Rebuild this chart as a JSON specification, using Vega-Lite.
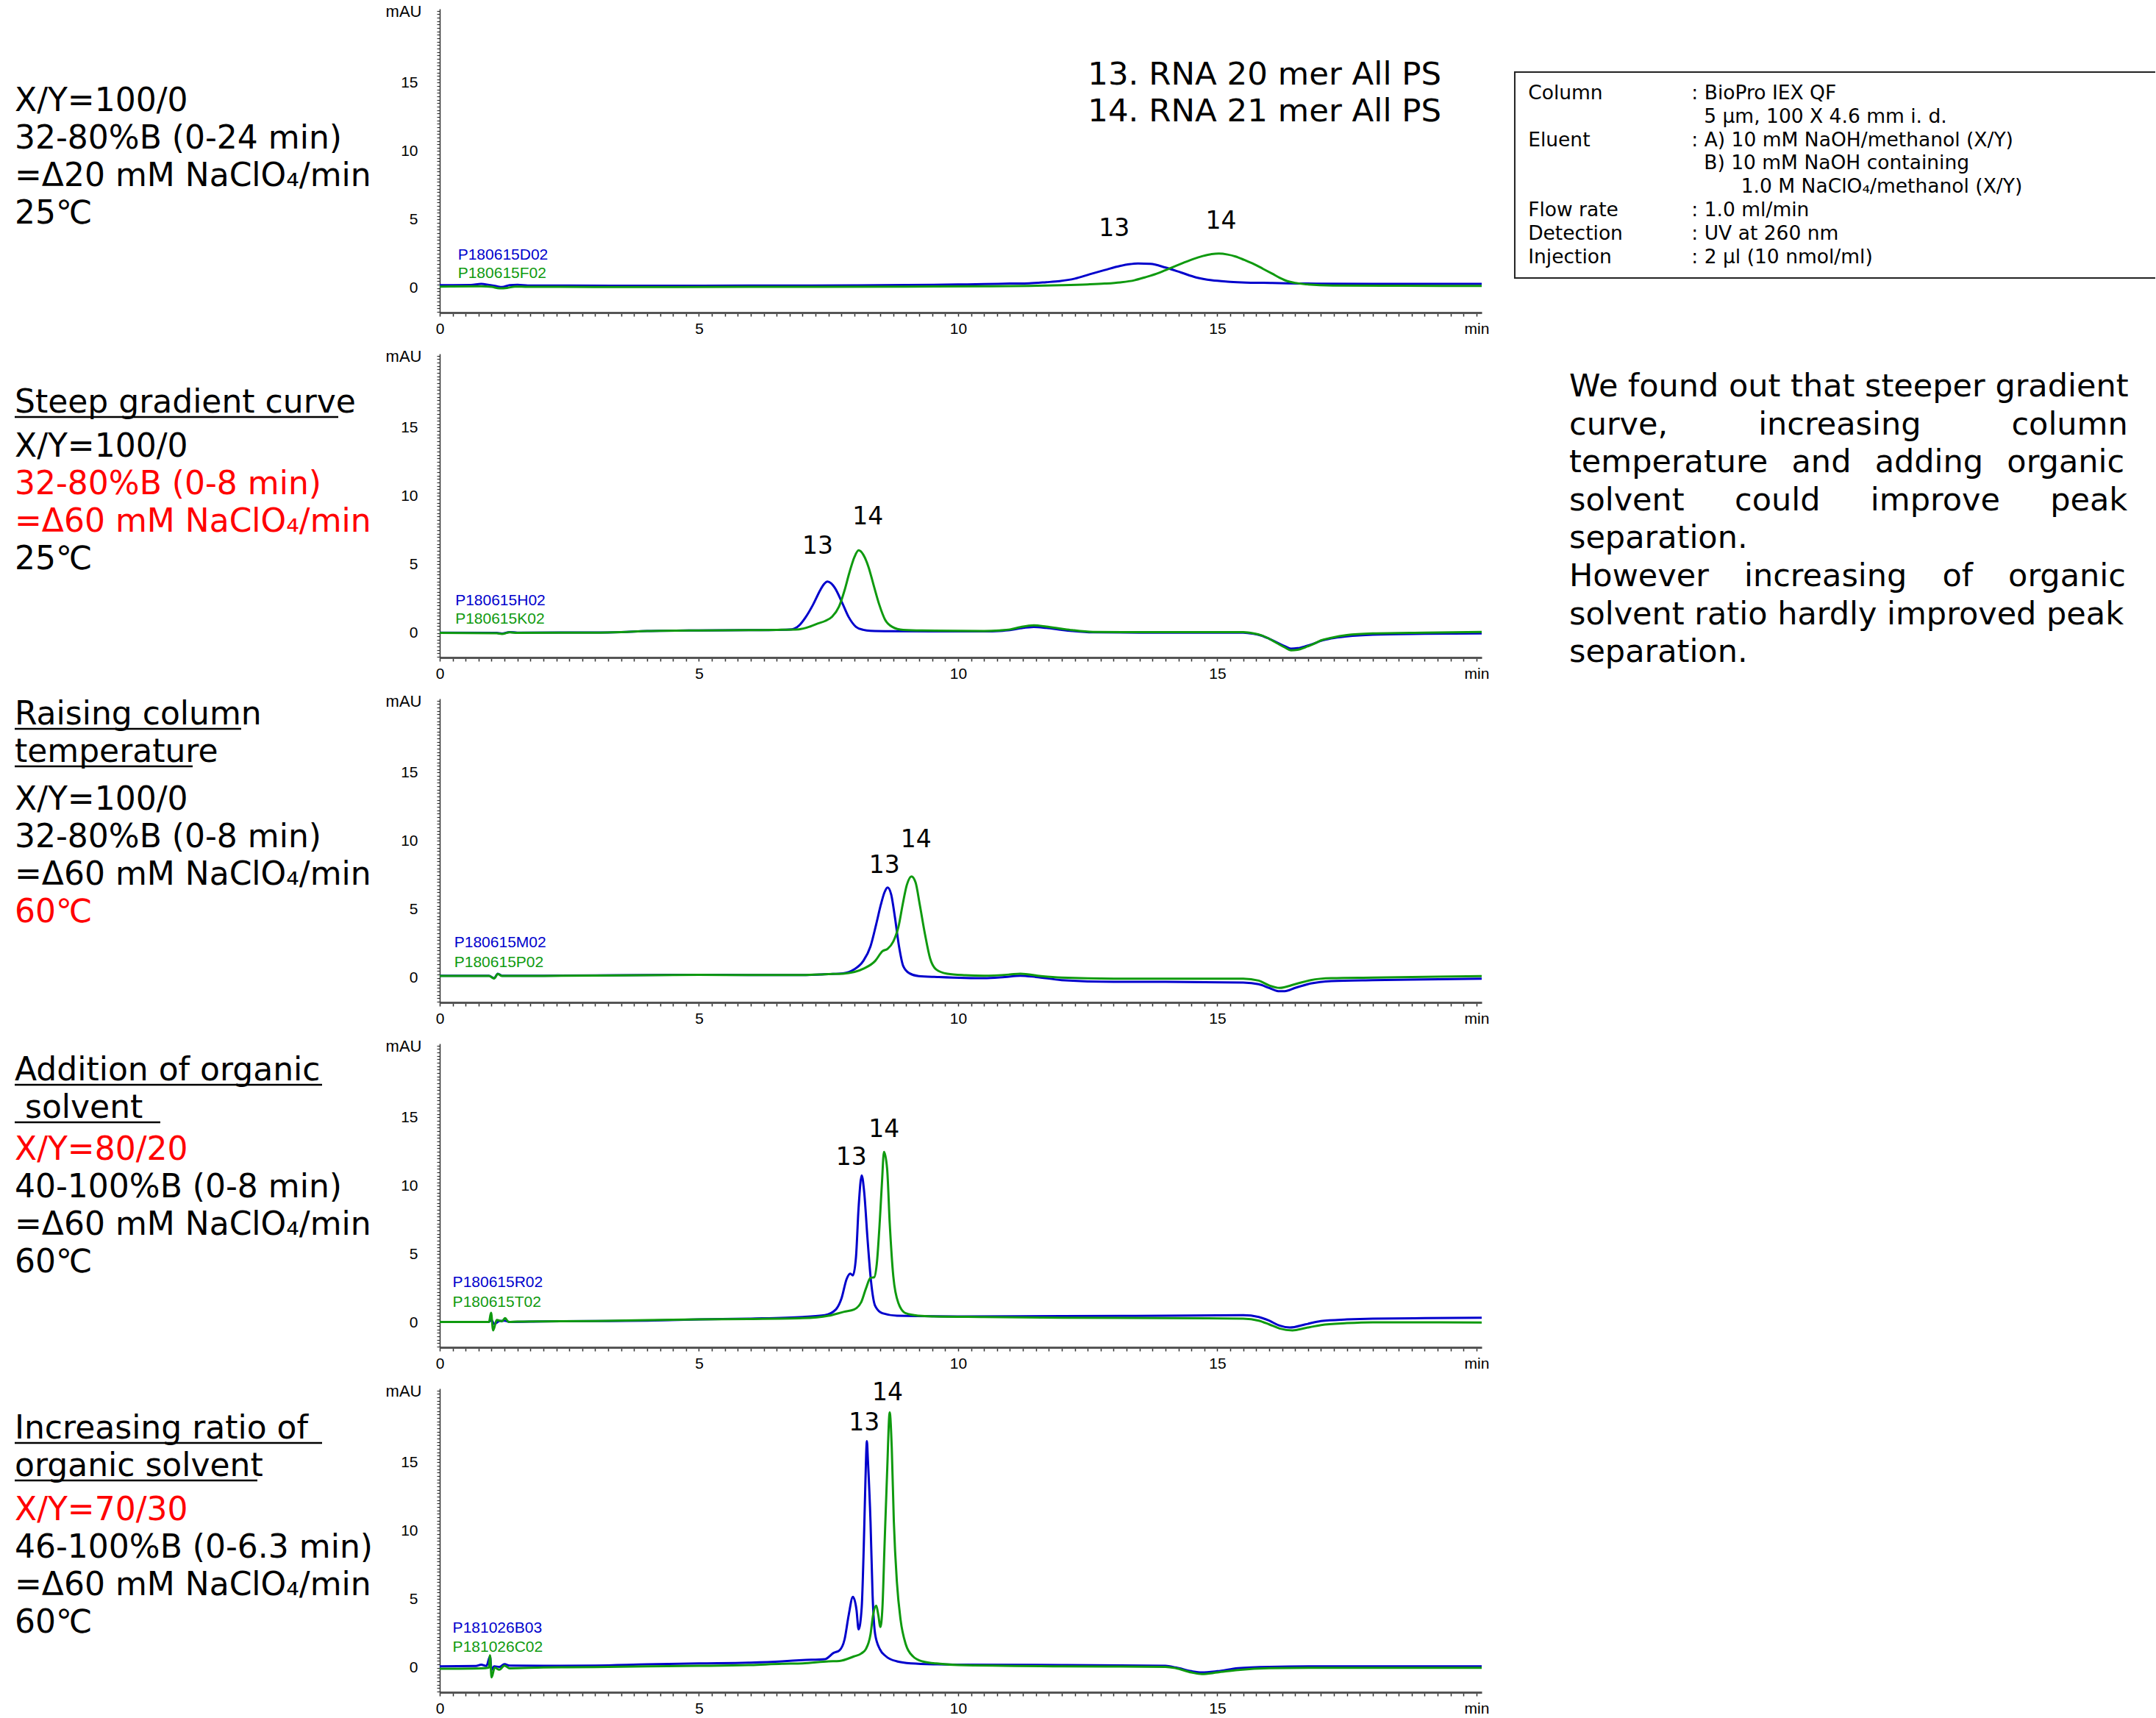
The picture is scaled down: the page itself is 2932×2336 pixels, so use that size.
{
  "$schema": "https://vega.github.io/schema/vega-lite/v6.json",
  "background": "white",
  "padding": {"left": 0, "top": 3, "right": 0, "bottom": 0},
  "columns": 3,
  "spacing": {"row": 56, "column": 36},
  "bounds": "flush",
  "config": {"view": {"stroke": null}, "axis": {"grid": false}},
  "datasets": {
    "conditions": [
      {"row": 1, "line": 1, "kind": "body", "text": "X/Y=100/0", "changed": false},
      {"row": 1, "line": 2, "kind": "body", "text": "32-80%B (0-24 min)", "changed": false},
      {"row": 1, "line": 3, "kind": "body", "text": "=\u039420 mM NaClO\u2084/min", "changed": false},
      {"row": 1, "line": 4, "kind": "body", "text": "25\u2103", "changed": false},
      {"row": 2, "line": 0, "kind": "head", "text": "Steep gradient curve", "changed": false},
      {"row": 2, "line": 1, "kind": "body", "text": "X/Y=100/0", "changed": false},
      {"row": 2, "line": 2, "kind": "body", "text": "32-80%B (0-8 min)", "changed": true},
      {"row": 2, "line": 3, "kind": "body", "text": "=\u039460 mM NaClO\u2084/min", "changed": true},
      {"row": 2, "line": 4, "kind": "body", "text": "25\u2103", "changed": false},
      {"row": 3, "line": 0, "kind": "head", "text": "Raising column", "changed": false},
      {"row": 3, "line": 1, "kind": "head", "text": "temperature", "changed": false},
      {"row": 3, "line": 2, "kind": "body", "text": "X/Y=100/0", "changed": false},
      {"row": 3, "line": 3, "kind": "body", "text": "32-80%B (0-8 min)", "changed": false},
      {"row": 3, "line": 4, "kind": "body", "text": "=\u039460 mM NaClO\u2084/min", "changed": false},
      {"row": 3, "line": 5, "kind": "body", "text": "60\u2103", "changed": true},
      {"row": 4, "line": 0, "kind": "head", "text": "Addition of organic", "changed": false},
      {"row": 4, "line": 1, "kind": "head", "text": "\u200b\u00a0solvent", "changed": false},
      {"row": 4, "line": 2, "kind": "body", "text": "X/Y=80/20", "changed": true},
      {"row": 4, "line": 3, "kind": "body", "text": "40-100%B (0-8 min)", "changed": false},
      {"row": 4, "line": 4, "kind": "body", "text": "=\u039460 mM NaClO\u2084/min", "changed": false},
      {"row": 4, "line": 5, "kind": "body", "text": "60\u2103", "changed": false},
      {"row": 5, "line": 0, "kind": "head", "text": "Increasing ratio of", "changed": false},
      {"row": 5, "line": 1, "kind": "head", "text": "organic solvent", "changed": false},
      {"row": 5, "line": 2, "kind": "body", "text": "X/Y=70/30", "changed": true},
      {"row": 5, "line": 3, "kind": "body", "text": "46-100%B (0-6.3 min)", "changed": false},
      {"row": 5, "line": 4, "kind": "body", "text": "=\u039460 mM NaClO\u2084/min", "changed": false},
      {"row": 5, "line": 5, "kind": "body", "text": "60\u2103", "changed": false}
    ],
    "box": [
      {"line": 0, "key": "Column", "value": ": BioPro IEX QF"},
      {"line": 1, "key": "", "value": "\u200b\u00a0\u00a05 \u00b5m, 100 X 4.6 mm i. d."},
      {"line": 2, "key": "Eluent", "value": ": A) 10 mM NaOH/methanol (X/Y)"},
      {"line": 3, "key": "", "value": "\u200b\u00a0\u00a0B) 10 mM NaOH containing"},
      {"line": 4, "key": "", "value": "\u200b\u00a0\u00a0\u00a0\u00a0\u00a0\u00a0\u00a0\u00a01.0 M NaClO\u2084/methanol (X/Y)"},
      {"line": 5, "key": "Flow rate", "value": ": 1.0 ml/min"},
      {"line": 6, "key": "Detection", "value": ": UV at 260 nm"},
      {"line": 7, "key": "Injection", "value": ": 2 \u00b5l (10 nmol/ml)"}
    ],
    "para": [
      {"line": 0, "text": "We found out that steeper gradient"},
      {"line": 1, "text": "curve,\u00a0\u00a0\u00a0\u00a0\u00a0\u00a0\u00a0\u00a0\u00a0increasing\u00a0\u00a0\u00a0\u00a0\u00a0\u00a0\u00a0\u00a0\u00a0column"},
      {"line": 2, "text": "temperature\u2002\u2005and\u2002\u2005adding\u2002\u2005organic"},
      {"line": 3, "text": "solvent\u00a0\u00a0\u00a0\u00a0\u00a0could\u00a0\u00a0\u00a0\u00a0\u00a0improve\u00a0\u00a0\u00a0\u00a0\u00a0peak"},
      {"line": 4, "text": "separation."},
      {"line": 5, "text": "However\u00a0\u00a0\u00a0\u2006increasing\u00a0\u00a0\u00a0\u2006of\u00a0\u00a0\u00a0\u2006organic"},
      {"line": 6, "text": "solvent ratio hardly improved peak"},
      {"line": 7, "text": "separation."}
    ],
    "notes": [
      {"panel": 1, "kind": "sample", "peak": "13", "text": "P180615D02", "t": 0.35, "mAU": 2.39},
      {"panel": 1, "kind": "sample", "peak": "14", "text": "P180615F02", "t": 0.35, "mAU": 1.05},
      {"panel": 1, "kind": "peak", "peak": "13", "text": "13", "t": 13.01, "mAU": 4.34},
      {"panel": 1, "kind": "peak", "peak": "14", "text": "14", "t": 15.07, "mAU": 4.88},
      {"panel": 1, "kind": "key", "peak": "13", "text": "13. RNA 20 mer All PS", "t": 12.5, "mAU": 15.56},
      {"panel": 1, "kind": "key", "peak": "14", "text": "14. RNA 21 mer All PS", "t": 12.5, "mAU": 12.88},
      {"panel": 2, "kind": "sample", "peak": "13", "text": "P180615H02", "t": 0.3, "mAU": 2.34},
      {"panel": 2, "kind": "sample", "peak": "14", "text": "P180615K02", "t": 0.3, "mAU": 0.99},
      {"panel": 2, "kind": "peak", "peak": "13", "text": "13", "t": 7.29, "mAU": 6.3},
      {"panel": 2, "kind": "peak", "peak": "14", "text": "14", "t": 8.26, "mAU": 8.44},
      {"panel": 3, "kind": "sample", "peak": "13", "text": "P180615M02", "t": 0.28, "mAU": 2.57},
      {"panel": 3, "kind": "sample", "peak": "14", "text": "P180615P02", "t": 0.28, "mAU": 1.09},
      {"panel": 3, "kind": "peak", "peak": "13", "text": "13", "t": 8.58, "mAU": 8.2},
      {"panel": 3, "kind": "peak", "peak": "14", "text": "14", "t": 9.19, "mAU": 10.1},
      {"panel": 4, "kind": "sample", "peak": "13", "text": "P180615R02", "t": 0.25, "mAU": 2.93},
      {"panel": 4, "kind": "sample", "peak": "14", "text": "P180615T02", "t": 0.25, "mAU": 1.5},
      {"panel": 4, "kind": "peak", "peak": "13", "text": "13", "t": 7.94, "mAU": 12.07},
      {"panel": 4, "kind": "peak", "peak": "14", "text": "14", "t": 8.57, "mAU": 14.13},
      {"panel": 5, "kind": "sample", "peak": "13", "text": "P181026B03", "t": 0.25, "mAU": 2.88},
      {"panel": 5, "kind": "sample", "peak": "14", "text": "P181026C02", "t": 0.25, "mAU": 1.5},
      {"panel": 5, "kind": "peak", "peak": "13", "text": "13", "t": 8.19, "mAU": 17.9},
      {"panel": 5, "kind": "peak", "peak": "14", "text": "14", "t": 8.64, "mAU": 20.08}
    ],
    "trace": [
      {"panel":1,"peak":"13","t":0,"mAU":0.2},{"panel":1,"peak":"13","t":0.6,"mAU":0.21},{"panel":1,"peak":"13","t":0.8,"mAU":0.3},{"panel":1,"peak":"13","t":0.95,"mAU":0.22},{"panel":1,"peak":"13","t":1.1,"mAU":0.12},{"panel":1,"peak":"13","t":1.2,"mAU":0.07},{"panel":1,"peak":"13","t":1.35,"mAU":0.2},{"panel":1,"peak":"13","t":1.5,"mAU":0.23},{"panel":1,"peak":"13","t":1.7,"mAU":0.18},{"panel":1,"peak":"13","t":2.5,"mAU":0.17},{"panel":1,"peak":"13","t":4,"mAU":0.16},{"panel":1,"peak":"13","t":6,"mAU":0.17},{"panel":1,"peak":"13","t":8,"mAU":0.19},{"panel":1,"peak":"13","t":9,"mAU":0.21},{"panel":1,"peak":"13","t":10,"mAU":0.25},{"panel":1,"peak":"13","t":10.5,"mAU":0.28},{"panel":1,"peak":"13","t":11,"mAU":0.32},{"panel":1,"peak":"13","t":11.37,"mAU":0.34},{"panel":1,"peak":"13","t":11.7,"mAU":0.42},{"panel":1,"peak":"13","t":11.96,"mAU":0.5},{"panel":1,"peak":"13","t":12.25,"mAU":0.68},{"panel":1,"peak":"13","t":12.54,"mAU":1.0},{"panel":1,"peak":"13","t":12.83,"mAU":1.31},{"panel":1,"peak":"13","t":13.13,"mAU":1.61},{"panel":1,"peak":"13","t":13.3,"mAU":1.73},{"panel":1,"peak":"13","t":13.47,"mAU":1.79},{"panel":1,"peak":"13","t":13.71,"mAU":1.76},{"panel":1,"peak":"13","t":14.0,"mAU":1.49},{"panel":1,"peak":"13","t":14.3,"mAU":1.13},{"panel":1,"peak":"13","t":14.59,"mAU":0.77},{"panel":1,"peak":"13","t":14.89,"mAU":0.56},{"panel":1,"peak":"13","t":15.2,"mAU":0.46},{"panel":1,"peak":"13","t":15.47,"mAU":0.41},{"panel":1,"peak":"13","t":16.06,"mAU":0.36},{"panel":1,"peak":"13","t":16.65,"mAU":0.32},{"panel":1,"peak":"13","t":18,"mAU":0.3},{"panel":1,"peak":"13","t":20.1,"mAU":0.29},
      {"panel":1,"peak":"14","t":0,"mAU":0.1},{"panel":1,"peak":"14","t":0.8,"mAU":0.12},{"panel":1,"peak":"14","t":1.0,"mAU":0.08},{"panel":1,"peak":"14","t":1.15,"mAU":-0.03},{"panel":1,"peak":"14","t":1.3,"mAU":0.0},{"panel":1,"peak":"14","t":1.45,"mAU":0.1},{"panel":1,"peak":"14","t":1.7,"mAU":0.08},{"panel":1,"peak":"14","t":3,"mAU":0.07},{"panel":1,"peak":"14","t":6,"mAU":0.08},{"panel":1,"peak":"14","t":9,"mAU":0.1},{"panel":1,"peak":"14","t":10.5,"mAU":0.12},{"panel":1,"peak":"14","t":11.37,"mAU":0.15},{"panel":1,"peak":"14","t":12.0,"mAU":0.2},{"panel":1,"peak":"14","t":12.5,"mAU":0.26},{"panel":1,"peak":"14","t":12.83,"mAU":0.32},{"panel":1,"peak":"14","t":13.13,"mAU":0.41},{"panel":1,"peak":"14","t":13.4,"mAU":0.56},{"panel":1,"peak":"14","t":13.6,"mAU":0.77},{"panel":1,"peak":"14","t":13.83,"mAU":1.04},{"panel":1,"peak":"14","t":14.0,"mAU":1.3},{"panel":1,"peak":"14","t":14.18,"mAU":1.58},{"panel":1,"peak":"14","t":14.36,"mAU":1.86},{"panel":1,"peak":"14","t":14.54,"mAU":2.12},{"panel":1,"peak":"14","t":14.72,"mAU":2.33},{"panel":1,"peak":"14","t":14.89,"mAU":2.47},{"panel":1,"peak":"14","t":15.03,"mAU":2.51},{"panel":1,"peak":"14","t":15.2,"mAU":2.44},{"panel":1,"peak":"14","t":15.35,"mAU":2.3},{"panel":1,"peak":"14","t":15.52,"mAU":2.05},{"panel":1,"peak":"14","t":15.7,"mAU":1.76},{"panel":1,"peak":"14","t":15.88,"mAU":1.4},{"panel":1,"peak":"14","t":16.06,"mAU":1.04},{"panel":1,"peak":"14","t":16.2,"mAU":0.75},{"panel":1,"peak":"14","t":16.35,"mAU":0.5},{"panel":1,"peak":"14","t":16.5,"mAU":0.37},{"panel":1,"peak":"14","t":16.65,"mAU":0.29},{"panel":1,"peak":"14","t":17.23,"mAU":0.18},{"panel":1,"peak":"14","t":18.5,"mAU":0.16},{"panel":1,"peak":"14","t":20.1,"mAU":0.15},
      {"panel":2,"peak":"13","t":0,"mAU":0.02},{"panel":2,"peak":"13","t":1.1,"mAU":0.0},{"panel":2,"peak":"13","t":1.2,"mAU":-0.05},{"panel":2,"peak":"13","t":1.35,"mAU":0.05},{"panel":2,"peak":"13","t":1.5,"mAU":0.02},{"panel":2,"peak":"13","t":3,"mAU":0.03},{"panel":2,"peak":"13","t":3.5,"mAU":0.06},{"panel":2,"peak":"13","t":4,"mAU":0.13},{"panel":2,"peak":"13","t":5,"mAU":0.18},{"panel":2,"peak":"13","t":6,"mAU":0.2},{"panel":2,"peak":"13","t":6.5,"mAU":0.22},{"panel":2,"peak":"13","t":6.79,"mAU":0.26},{"panel":2,"peak":"13","t":6.93,"mAU":0.53},{"panel":2,"peak":"13","t":7.06,"mAU":1.15},{"panel":2,"peak":"13","t":7.2,"mAU":2.05},{"panel":2,"peak":"13","t":7.34,"mAU":3.12},{"panel":2,"peak":"13","t":7.41,"mAU":3.55},{"panel":2,"peak":"13","t":7.48,"mAU":3.75},{"panel":2,"peak":"13","t":7.55,"mAU":3.62},{"panel":2,"peak":"13","t":7.62,"mAU":3.3},{"panel":2,"peak":"13","t":7.76,"mAU":2.23},{"panel":2,"peak":"13","t":7.89,"mAU":1.15},{"panel":2,"peak":"13","t":8.03,"mAU":0.44},{"panel":2,"peak":"13","t":8.17,"mAU":0.22},{"panel":2,"peak":"13","t":8.31,"mAU":0.15},{"panel":2,"peak":"13","t":8.7,"mAU":0.12},{"panel":2,"peak":"13","t":9.5,"mAU":0.11},{"panel":2,"peak":"13","t":10.5,"mAU":0.11},{"panel":2,"peak":"13","t":10.8,"mAU":0.14},{"panel":2,"peak":"13","t":11.0,"mAU":0.2},{"panel":2,"peak":"13","t":11.2,"mAU":0.33},{"panel":2,"peak":"13","t":11.46,"mAU":0.43},{"panel":2,"peak":"13","t":11.7,"mAU":0.36},{"panel":2,"peak":"13","t":12.0,"mAU":0.22},{"panel":2,"peak":"13","t":12.2,"mAU":0.14},{"panel":2,"peak":"13","t":12.6,"mAU":0.04},{"panel":2,"peak":"13","t":13.5,"mAU":0.02},{"panel":2,"peak":"13","t":15.5,"mAU":0.02},{"panel":2,"peak":"13","t":15.7,"mAU":-0.07},{"panel":2,"peak":"13","t":15.85,"mAU":-0.2},{"panel":2,"peak":"13","t":16.0,"mAU":-0.43},{"panel":2,"peak":"13","t":16.15,"mAU":-0.7},{"panel":2,"peak":"13","t":16.3,"mAU":-0.97},{"panel":2,"peak":"13","t":16.42,"mAU":-1.16},{"panel":2,"peak":"13","t":16.55,"mAU":-1.12},{"panel":2,"peak":"13","t":16.7,"mAU":-0.98},{"panel":2,"peak":"13","t":16.85,"mAU":-0.8},{"panel":2,"peak":"13","t":17.0,"mAU":-0.58},{"panel":2,"peak":"13","t":17.2,"mAU":-0.4},{"panel":2,"peak":"13","t":17.5,"mAU":-0.25},{"panel":2,"peak":"13","t":18.0,"mAU":-0.13},{"panel":2,"peak":"13","t":19.0,"mAU":-0.07},{"panel":2,"peak":"13","t":20.1,"mAU":-0.04},
      {"panel":2,"peak":"14","t":0,"mAU":0.0},{"panel":2,"peak":"14","t":1.1,"mAU":-0.03},{"panel":2,"peak":"14","t":1.2,"mAU":-0.08},{"panel":2,"peak":"14","t":1.35,"mAU":0.04},{"panel":2,"peak":"14","t":1.5,"mAU":0.0},{"panel":2,"peak":"14","t":3,"mAU":0.02},{"panel":2,"peak":"14","t":3.5,"mAU":0.06},{"panel":2,"peak":"14","t":4,"mAU":0.13},{"panel":2,"peak":"14","t":5,"mAU":0.18},{"panel":2,"peak":"14","t":6,"mAU":0.2},{"panel":2,"peak":"14","t":6.5,"mAU":0.22},{"panel":2,"peak":"14","t":6.93,"mAU":0.26},{"panel":2,"peak":"14","t":7.15,"mAU":0.47},{"panel":2,"peak":"14","t":7.29,"mAU":0.68},{"panel":2,"peak":"14","t":7.43,"mAU":0.86},{"panel":2,"peak":"14","t":7.57,"mAU":1.18},{"panel":2,"peak":"14","t":7.7,"mAU":1.9},{"panel":2,"peak":"14","t":7.81,"mAU":3.12},{"panel":2,"peak":"14","t":7.9,"mAU":4.37},{"panel":2,"peak":"14","t":8.0,"mAU":5.54},{"panel":2,"peak":"14","t":8.08,"mAU":6.03},{"panel":2,"peak":"14","t":8.17,"mAU":5.72},{"panel":2,"peak":"14","t":8.27,"mAU":4.83},{"panel":2,"peak":"14","t":8.37,"mAU":3.49},{"panel":2,"peak":"14","t":8.48,"mAU":2.05},{"panel":2,"peak":"14","t":8.59,"mAU":0.97},{"panel":2,"peak":"14","t":8.73,"mAU":0.44},{"panel":2,"peak":"14","t":8.94,"mAU":0.22},{"panel":2,"peak":"14","t":9.3,"mAU":0.17},{"panel":2,"peak":"14","t":10.5,"mAU":0.14},{"panel":2,"peak":"14","t":10.8,"mAU":0.18},{"panel":2,"peak":"14","t":11.0,"mAU":0.25},{"panel":2,"peak":"14","t":11.2,"mAU":0.42},{"panel":2,"peak":"14","t":11.46,"mAU":0.55},{"panel":2,"peak":"14","t":11.7,"mAU":0.46},{"panel":2,"peak":"14","t":12.0,"mAU":0.3},{"panel":2,"peak":"14","t":12.2,"mAU":0.2},{"panel":2,"peak":"14","t":12.6,"mAU":0.07},{"panel":2,"peak":"14","t":13.5,"mAU":0.05},{"panel":2,"peak":"14","t":15.5,"mAU":0.05},{"panel":2,"peak":"14","t":15.7,"mAU":-0.04},{"panel":2,"peak":"14","t":15.85,"mAU":-0.18},{"panel":2,"peak":"14","t":16.0,"mAU":-0.43},{"panel":2,"peak":"14","t":16.15,"mAU":-0.75},{"panel":2,"peak":"14","t":16.3,"mAU":-1.06},{"panel":2,"peak":"14","t":16.42,"mAU":-1.27},{"panel":2,"peak":"14","t":16.55,"mAU":-1.24},{"panel":2,"peak":"14","t":16.7,"mAU":-1.05},{"panel":2,"peak":"14","t":16.85,"mAU":-0.82},{"panel":2,"peak":"14","t":17.0,"mAU":-0.55},{"panel":2,"peak":"14","t":17.2,"mAU":-0.36},{"panel":2,"peak":"14","t":17.5,"mAU":-0.16},{"panel":2,"peak":"14","t":18.0,"mAU":-0.04},{"panel":2,"peak":"14","t":19.0,"mAU":0.02},{"panel":2,"peak":"14","t":20.1,"mAU":0.07},
      {"panel":3,"peak":"13","t":0,"mAU":0.15},{"panel":3,"peak":"13","t":0.95,"mAU":0.15},{"panel":3,"peak":"13","t":1.05,"mAU":-0.03},{"panel":3,"peak":"13","t":1.12,"mAU":0.3},{"panel":3,"peak":"13","t":1.2,"mAU":0.15},{"panel":3,"peak":"13","t":2,"mAU":0.15},{"panel":3,"peak":"13","t":3,"mAU":0.17},{"panel":3,"peak":"13","t":4,"mAU":0.2},{"panel":3,"peak":"13","t":5,"mAU":0.22},{"panel":3,"peak":"13","t":6,"mAU":0.2},{"panel":3,"peak":"13","t":7,"mAU":0.2},{"panel":3,"peak":"13","t":7.5,"mAU":0.27},{"panel":3,"peak":"13","t":7.78,"mAU":0.33},{"panel":3,"peak":"13","t":7.99,"mAU":0.6},{"panel":3,"peak":"13","t":8.17,"mAU":1.23},{"panel":3,"peak":"13","t":8.31,"mAU":2.3},{"panel":3,"peak":"13","t":8.42,"mAU":3.92},{"panel":3,"peak":"13","t":8.51,"mAU":5.35},{"panel":3,"peak":"13","t":8.58,"mAU":6.25},{"panel":3,"peak":"13","t":8.64,"mAU":6.6},{"panel":3,"peak":"13","t":8.71,"mAU":6.07},{"panel":3,"peak":"13","t":8.78,"mAU":4.45},{"panel":3,"peak":"13","t":8.86,"mAU":2.3},{"panel":3,"peak":"13","t":8.94,"mAU":0.87},{"panel":3,"peak":"13","t":9.06,"mAU":0.33},{"panel":3,"peak":"13","t":9.24,"mAU":0.12},{"panel":3,"peak":"13","t":9.6,"mAU":0.06},{"panel":3,"peak":"13","t":10.5,"mAU":-0.03},{"panel":3,"peak":"13","t":10.9,"mAU":0.06},{"panel":3,"peak":"13","t":11.2,"mAU":0.15},{"panel":3,"peak":"13","t":11.5,"mAU":0.06},{"panel":3,"peak":"13","t":12,"mAU":-0.17},{"panel":3,"peak":"13","t":13,"mAU":-0.3},{"panel":3,"peak":"13","t":14,"mAU":-0.3},{"panel":3,"peak":"13","t":15.5,"mAU":-0.35},{"panel":3,"peak":"13","t":15.8,"mAU":-0.47},{"panel":3,"peak":"13","t":16.0,"mAU":-0.74},{"panel":3,"peak":"13","t":16.2,"mAU":-0.98},{"panel":3,"peak":"13","t":16.3,"mAU":-0.98},{"panel":3,"peak":"13","t":16.5,"mAU":-0.74},{"panel":3,"peak":"13","t":16.8,"mAU":-0.42},{"panel":3,"peak":"13","t":17.2,"mAU":-0.24},{"panel":3,"peak":"13","t":18,"mAU":-0.17},{"panel":3,"peak":"13","t":19,"mAU":-0.12},{"panel":3,"peak":"13","t":20.1,"mAU":-0.06},
      {"panel":3,"peak":"14","t":0,"mAU":0.13},{"panel":3,"peak":"14","t":0.95,"mAU":0.13},{"panel":3,"peak":"14","t":1.05,"mAU":-0.05},{"panel":3,"peak":"14","t":1.12,"mAU":0.28},{"panel":3,"peak":"14","t":1.2,"mAU":0.13},{"panel":3,"peak":"14","t":2,"mAU":0.14},{"panel":3,"peak":"14","t":3,"mAU":0.16},{"panel":3,"peak":"14","t":4,"mAU":0.19},{"panel":3,"peak":"14","t":5,"mAU":0.21},{"panel":3,"peak":"14","t":6,"mAU":0.2},{"panel":3,"peak":"14","t":7,"mAU":0.2},{"panel":3,"peak":"14","t":7.5,"mAU":0.27},{"panel":3,"peak":"14","t":7.78,"mAU":0.3},{"panel":3,"peak":"14","t":8.19,"mAU":0.69},{"panel":3,"peak":"14","t":8.4,"mAU":1.23},{"panel":3,"peak":"14","t":8.54,"mAU":1.94},{"panel":3,"peak":"14","t":8.64,"mAU":2.12},{"panel":3,"peak":"14","t":8.75,"mAU":2.66},{"panel":3,"peak":"14","t":8.85,"mAU":3.74},{"panel":3,"peak":"14","t":8.93,"mAU":5.35},{"panel":3,"peak":"14","t":9.01,"mAU":6.78},{"panel":3,"peak":"14","t":9.1,"mAU":7.41},{"panel":3,"peak":"14","t":9.18,"mAU":6.96},{"panel":3,"peak":"14","t":9.26,"mAU":5.35},{"panel":3,"peak":"14","t":9.36,"mAU":3.2},{"panel":3,"peak":"14","t":9.46,"mAU":1.41},{"panel":3,"peak":"14","t":9.58,"mAU":0.6},{"panel":3,"peak":"14","t":9.79,"mAU":0.3},{"panel":3,"peak":"14","t":10.14,"mAU":0.19},{"panel":3,"peak":"14","t":10.5,"mAU":0.15},{"panel":3,"peak":"14","t":11.0,"mAU":0.24},{"panel":3,"peak":"14","t":11.2,"mAU":0.3},{"panel":3,"peak":"14","t":11.6,"mAU":0.12},{"panel":3,"peak":"14","t":12,"mAU":0.01},{"panel":3,"peak":"14","t":13,"mAU":-0.06},{"panel":3,"peak":"14","t":15.5,"mAU":-0.06},{"panel":3,"peak":"14","t":15.8,"mAU":-0.21},{"panel":3,"peak":"14","t":16.0,"mAU":-0.56},{"panel":3,"peak":"14","t":16.2,"mAU":-0.74},{"panel":3,"peak":"14","t":16.5,"mAU":-0.47},{"panel":3,"peak":"14","t":16.8,"mAU":-0.17},{"panel":3,"peak":"14","t":17.2,"mAU":-0.03},{"panel":3,"peak":"14","t":18,"mAU":0.01},{"panel":3,"peak":"14","t":20.1,"mAU":0.12},
      {"panel":4,"peak":"13","t":0,"mAU":0.06},{"panel":4,"peak":"13","t":0.95,"mAU":0.06},{"panel":4,"peak":"13","t":1.0,"mAU":0.2},{"panel":4,"peak":"13","t":1.05,"mAU":-0.1},{"panel":4,"peak":"13","t":1.15,"mAU":0.12},{"panel":4,"peak":"13","t":1.25,"mAU":0.15},{"panel":4,"peak":"13","t":1.35,"mAU":0.06},{"panel":4,"peak":"13","t":2,"mAU":0.1},{"panel":4,"peak":"13","t":3,"mAU":0.12},{"panel":4,"peak":"13","t":4,"mAU":0.15},{"panel":4,"peak":"13","t":5,"mAU":0.24},{"panel":4,"peak":"13","t":6,"mAU":0.3},{"panel":4,"peak":"13","t":7,"mAU":0.42},{"panel":4,"peak":"13","t":7.43,"mAU":0.55},{"panel":4,"peak":"13","t":7.64,"mAU":0.96},{"panel":4,"peak":"13","t":7.75,"mAU":1.77},{"panel":4,"peak":"13","t":7.85,"mAU":3.2},{"panel":4,"peak":"13","t":7.92,"mAU":3.59},{"panel":4,"peak":"13","t":7.97,"mAU":3.46},{"panel":4,"peak":"13","t":8.03,"mAU":4.81},{"panel":4,"peak":"13","t":8.08,"mAU":8.4},{"panel":4,"peak":"13","t":8.14,"mAU":10.76},{"panel":4,"peak":"13","t":8.19,"mAU":9.47},{"panel":4,"peak":"13","t":8.25,"mAU":6.25},{"panel":4,"peak":"13","t":8.32,"mAU":3.02},{"panel":4,"peak":"13","t":8.4,"mAU":1.23},{"panel":4,"peak":"13","t":8.54,"mAU":0.69},{"panel":4,"peak":"13","t":8.82,"mAU":0.51},{"panel":4,"peak":"13","t":10,"mAU":0.46},{"panel":4,"peak":"13","t":12,"mAU":0.48},{"panel":4,"peak":"13","t":14,"mAU":0.51},{"panel":4,"peak":"13","t":15.5,"mAU":0.55},{"panel":4,"peak":"13","t":15.8,"mAU":0.42},{"panel":4,"peak":"13","t":16.0,"mAU":0.15},{"panel":4,"peak":"13","t":16.2,"mAU":-0.21},{"panel":4,"peak":"13","t":16.4,"mAU":-0.35},{"panel":4,"peak":"13","t":16.7,"mAU":-0.12},{"panel":4,"peak":"13","t":17.0,"mAU":0.12},{"panel":4,"peak":"13","t":17.5,"mAU":0.24},{"panel":4,"peak":"13","t":18,"mAU":0.3},{"panel":4,"peak":"13","t":19,"mAU":0.33},{"panel":4,"peak":"13","t":20.1,"mAU":0.37},
      {"panel":4,"peak":"14","t":0,"mAU":0.06},{"panel":4,"peak":"14","t":0.95,"mAU":0.06},{"panel":4,"peak":"14","t":0.99,"mAU":0.72},{"panel":4,"peak":"14","t":1.03,"mAU":-0.56},{"panel":4,"peak":"14","t":1.1,"mAU":0.2},{"panel":4,"peak":"14","t":1.2,"mAU":0.1},{"panel":4,"peak":"14","t":1.26,"mAU":0.33},{"panel":4,"peak":"14","t":1.33,"mAU":0.05},{"panel":4,"peak":"14","t":1.5,"mAU":0.08},{"panel":4,"peak":"14","t":2,"mAU":0.1},{"panel":4,"peak":"14","t":3,"mAU":0.12},{"panel":4,"peak":"14","t":4,"mAU":0.19},{"panel":4,"peak":"14","t":5,"mAU":0.24},{"panel":4,"peak":"14","t":6,"mAU":0.27},{"panel":4,"peak":"14","t":7,"mAU":0.33},{"panel":4,"peak":"14","t":7.5,"mAU":0.51},{"panel":4,"peak":"14","t":7.8,"mAU":0.8},{"panel":4,"peak":"14","t":7.99,"mAU":0.96},{"panel":4,"peak":"14","t":8.13,"mAU":1.5},{"panel":4,"peak":"14","t":8.22,"mAU":2.48},{"panel":4,"peak":"14","t":8.31,"mAU":3.28},{"panel":4,"peak":"14","t":8.38,"mAU":3.32},{"panel":4,"peak":"14","t":8.43,"mAU":4.27},{"panel":4,"peak":"14","t":8.49,"mAU":7.5},{"panel":4,"peak":"14","t":8.53,"mAU":10.19},{"panel":4,"peak":"14","t":8.57,"mAU":12.48},{"panel":4,"peak":"14","t":8.63,"mAU":11.27},{"panel":4,"peak":"14","t":8.68,"mAU":7.32},{"panel":4,"peak":"14","t":8.75,"mAU":3.38},{"panel":4,"peak":"14","t":8.85,"mAU":1.41},{"panel":4,"peak":"14","t":8.99,"mAU":0.69},{"panel":4,"peak":"14","t":9.24,"mAU":0.51},{"panel":4,"peak":"14","t":9.5,"mAU":0.46},{"panel":4,"peak":"14","t":10.5,"mAU":0.42},{"panel":4,"peak":"14","t":12,"mAU":0.37},{"panel":4,"peak":"14","t":14,"mAU":0.33},{"panel":4,"peak":"14","t":15.5,"mAU":0.3},{"panel":4,"peak":"14","t":15.8,"mAU":0.15},{"panel":4,"peak":"14","t":16.0,"mAU":-0.12},{"panel":4,"peak":"14","t":16.2,"mAU":-0.42},{"panel":4,"peak":"14","t":16.45,"mAU":-0.56},{"panel":4,"peak":"14","t":16.7,"mAU":-0.39},{"panel":4,"peak":"14","t":17.0,"mAU":-0.17},{"panel":4,"peak":"14","t":17.5,"mAU":-0.03},{"panel":4,"peak":"14","t":18,"mAU":0.03},{"panel":4,"peak":"14","t":20.1,"mAU":0.01},
      {"panel":5,"peak":"13","t":0,"mAU":0.1},{"panel":5,"peak":"13","t":0.7,"mAU":0.12},{"panel":5,"peak":"13","t":0.8,"mAU":0.22},{"panel":5,"peak":"13","t":0.9,"mAU":0.12},{"panel":5,"peak":"13","t":0.97,"mAU":0.82},{"panel":5,"peak":"13","t":1.0,"mAU":-0.17},{"panel":5,"peak":"13","t":1.05,"mAU":0.1},{"panel":5,"peak":"13","t":1.15,"mAU":0.05},{"panel":5,"peak":"13","t":1.25,"mAU":0.25},{"panel":5,"peak":"13","t":1.35,"mAU":0.15},{"panel":5,"peak":"13","t":2,"mAU":0.13},{"panel":5,"peak":"13","t":3,"mAU":0.15},{"panel":5,"peak":"13","t":4,"mAU":0.24},{"panel":5,"peak":"13","t":5,"mAU":0.31},{"panel":5,"peak":"13","t":6,"mAU":0.37},{"panel":5,"peak":"13","t":6.6,"mAU":0.46},{"panel":5,"peak":"13","t":7.0,"mAU":0.55},{"panel":5,"peak":"13","t":7.43,"mAU":0.62},{"panel":5,"peak":"13","t":7.6,"mAU":1.08},{"panel":5,"peak":"13","t":7.71,"mAU":1.26},{"panel":5,"peak":"13","t":7.81,"mAU":2.07},{"panel":5,"peak":"13","t":7.89,"mAU":3.86},{"panel":5,"peak":"13","t":7.97,"mAU":5.17},{"panel":5,"peak":"13","t":8.04,"mAU":4.21},{"panel":5,"peak":"13","t":8.08,"mAU":2.79},{"panel":5,"peak":"13","t":8.14,"mAU":4.4},{"panel":5,"peak":"13","t":8.18,"mAU":8.87},{"panel":5,"peak":"13","t":8.21,"mAU":13.36},{"panel":5,"peak":"13","t":8.24,"mAU":16.55},{"panel":5,"peak":"13","t":8.26,"mAU":15.15},{"panel":5,"peak":"13","t":8.31,"mAU":10.67},{"panel":5,"peak":"13","t":8.35,"mAU":5.3},{"panel":5,"peak":"13","t":8.4,"mAU":2.43},{"panel":5,"peak":"13","t":8.49,"mAU":1.35},{"panel":5,"peak":"13","t":8.61,"mAU":0.82},{"panel":5,"peak":"13","t":8.82,"mAU":0.46},{"panel":5,"peak":"13","t":9.1,"mAU":0.31},{"panel":5,"peak":"13","t":9.6,"mAU":0.24},{"panel":5,"peak":"13","t":10,"mAU":0.22},{"panel":5,"peak":"13","t":12,"mAU":0.19},{"panel":5,"peak":"13","t":14,"mAU":0.13},{"panel":5,"peak":"13","t":14.2,"mAU":0.01},{"panel":5,"peak":"13","t":14.5,"mAU":-0.26},{"panel":5,"peak":"13","t":14.7,"mAU":-0.35},{"panel":5,"peak":"13","t":15.0,"mAU":-0.26},{"panel":5,"peak":"13","t":15.4,"mAU":-0.04},{"panel":5,"peak":"13","t":16,"mAU":0.06},{"panel":5,"peak":"13","t":17,"mAU":0.1},{"panel":5,"peak":"13","t":20.1,"mAU":0.1},
      {"panel":5,"peak":"14","t":0,"mAU":-0.08},{"panel":5,"peak":"14","t":0.8,"mAU":-0.05},{"panel":5,"peak":"14","t":0.95,"mAU":0.0},{"panel":5,"peak":"14","t":0.97,"mAU":0.9},{"panel":5,"peak":"14","t":1.0,"mAU":-0.71},{"panel":5,"peak":"14","t":1.06,"mAU":0.0},{"panel":5,"peak":"14","t":1.15,"mAU":-0.15},{"panel":5,"peak":"14","t":1.25,"mAU":0.15},{"panel":5,"peak":"14","t":1.35,"mAU":-0.05},{"panel":5,"peak":"14","t":2,"mAU":0.01},{"panel":5,"peak":"14","t":3,"mAU":0.04},{"panel":5,"peak":"14","t":4,"mAU":0.1},{"panel":5,"peak":"14","t":5,"mAU":0.13},{"panel":5,"peak":"14","t":6,"mAU":0.19},{"panel":5,"peak":"14","t":6.6,"mAU":0.28},{"panel":5,"peak":"14","t":7.0,"mAU":0.31},{"panel":5,"peak":"14","t":7.5,"mAU":0.46},{"panel":5,"peak":"14","t":7.71,"mAU":0.49},{"panel":5,"peak":"14","t":7.99,"mAU":0.82},{"panel":5,"peak":"14","t":8.13,"mAU":1.03},{"panel":5,"peak":"14","t":8.22,"mAU":1.35},{"panel":5,"peak":"14","t":8.31,"mAU":2.43},{"panel":5,"peak":"14","t":8.36,"mAU":3.86},{"panel":5,"peak":"14","t":8.42,"mAU":4.53},{"panel":5,"peak":"14","t":8.46,"mAU":3.86},{"panel":5,"peak":"14","t":8.5,"mAU":2.97},{"panel":5,"peak":"14","t":8.54,"mAU":4.4},{"panel":5,"peak":"14","t":8.58,"mAU":8.87},{"panel":5,"peak":"14","t":8.63,"mAU":14.25},{"panel":5,"peak":"14","t":8.68,"mAU":18.65},{"panel":5,"peak":"14","t":8.72,"mAU":16.05},{"panel":5,"peak":"14","t":8.76,"mAU":10.67},{"panel":5,"peak":"14","t":8.82,"mAU":6.2},{"panel":5,"peak":"14","t":8.89,"mAU":3.5},{"panel":5,"peak":"14","t":8.99,"mAU":1.71},{"panel":5,"peak":"14","t":9.13,"mAU":0.82},{"panel":5,"peak":"14","t":9.31,"mAU":0.46},{"panel":5,"peak":"14","t":9.65,"mAU":0.28},{"panel":5,"peak":"14","t":10,"mAU":0.19},{"panel":5,"peak":"14","t":12,"mAU":0.1},{"panel":5,"peak":"14","t":14,"mAU":0.06},{"panel":5,"peak":"14","t":14.2,"mAU":-0.04},{"panel":5,"peak":"14","t":14.5,"mAU":-0.35},{"panel":5,"peak":"14","t":14.7,"mAU":-0.47},{"panel":5,"peak":"14","t":15.0,"mAU":-0.35},{"panel":5,"peak":"14","t":15.4,"mAU":-0.17},{"panel":5,"peak":"14","t":16,"mAU":-0.04},{"panel":5,"peak":"14","t":17,"mAU":-0.01},{"panel":5,"peak":"14","t":20.1,"mAU":-0.01}
    ]
  },
  "concat": [
    {
      "width": 562, "height": 413,
      "data": {"name": "conditions"},
      "encoding": {
        "x": {"datum": 0, "type": "quantitative", "scale": {"domain": [-0.909, 24.636], "nice": false, "zero": false}, "axis": null},
        "y": {"field": "line", "type": "quantitative", "scale": {"domain": [-1.725, 6.373], "reverse": true, "nice": false, "zero": false}, "axis": null}
      },
      "layer": [
        {"transform": [{"filter": "datum.row == 1 && datum.kind == 'body'"}], "mark": {"type": "text", "align": "left", "baseline": "alphabetic", "font": "DejaVu Sans", "fontSize": 44}, "encoding": {"text": {"field": "text"}, "color": {"condition": {"test": "datum.changed", "value": "#FF0000"}, "value": "#000000"}}},
        {"data": {"values": [{"arrow": "down"}]}, "mark": {"type": "point", "shape": "M -0.485 -0.763 L 0.485 -0.763 L 0.485 0 L 1 0 L 0 0.763 L -1 0 L -0.485 0 Z", "size": 9409, "filled": true, "fill": "#03205E", "stroke": "#BCD0EA", "strokeWidth": 1.5, "opacity": 1}, "encoding": {"x": {"datum": 10.52}, "y": {"datum": 5.95}}}
      ]
    },
    {
      "width": 1417, "height": 413,
      "encoding": {
        "x": {"field": "t", "type": "quantitative", "scale": {"domain": [0, 20.1], "nice": false, "zero": false}, "axis": {"title": null, "values": [0,0.25,0.5,0.75,1,1.25,1.5,1.75,2,2.25,2.5,2.75,3,3.25,3.5,3.75,4,4.25,4.5,4.75,5,5.25,5.5,5.75,6,6.25,6.5,6.75,7,7.25,7.5,7.75,8,8.25,8.5,8.75,9,9.25,9.5,9.75,10,10.25,10.5,10.75,11,11.25,11.5,11.75,12,12.25,12.5,12.75,13,13.25,13.5,13.75,14,14.25,14.5,14.75,15,15.25,15.5,15.75,16,16.25,16.5,16.75,17,17.25,17.5,17.75,18,18.25,18.5,18.75,19,19.25,19.5,19.75,20], "labelExpr": "datum.value % 5 === 0 ? (datum.value === 20 ? 'min' : format(datum.value, 'd')) : ''", "labelFont": "Liberation Sans", "labelFontSize": 21, "labelColor": "#000000", "labelBaseline": "middle", "labelPadding": 17, "labelOverlap": false, "labelFlush": false, "domainColor": "#555555", "domainWidth": 3, "tickColor": "#333333", "tickWidth": 1.5, "tickSize": 5, "grid": false}},
        "y": {"field": "mAU", "type": "quantitative", "scale": {"domain": [-1.8, 20.4], "nice": false, "zero": false}, "axis": {"title": "mAU", "titleAngle": 0, "titleAlign": "right", "titleBaseline": "middle", "titleX": -25, "titleY": 3, "titleFont": "Liberation Sans", "titleFontSize": 22, "titleFontWeight": "normal", "titleColor": "#000000", "values": [-1.75,-1.5,-1.25,-1,-0.75,-0.5,-0.25,0,0.25,0.5,0.75,1,1.25,1.5,1.75,2,2.25,2.5,2.75,3,3.25,3.5,3.75,4,4.25,4.5,4.75,5,5.25,5.5,5.75,6,6.25,6.5,6.75,7,7.25,7.5,7.75,8,8.25,8.5,8.75,9,9.25,9.5,9.75,10,10.25,10.5,10.75,11,11.25,11.5,11.75,12,12.25,12.5,12.75,13,13.25,13.5,13.75,14,14.25,14.5,14.75,15,15.25,15.5,15.75,16,16.25,16.5,16.75,17,17.25,17.5,17.75,18,18.25,18.5,18.75,19,19.25,19.5,19.75,20,20.25], "labelExpr": "datum.value % 5 === 0 && datum.value >= 0 && datum.value <= 15 ? format(datum.value, 'd') : ''", "labelFont": "Liberation Sans", "labelFontSize": 21, "labelColor": "#000000", "labelPadding": 26, "labelOverlap": false, "labelFlush": false, "domainColor": "#333333", "domainWidth": 1.5, "tickColor": "#333333", "tickWidth": 1.2, "tickSize": 4, "grid": false}}
      },
      "layer": [
        {"data": {"name": "trace"}, "transform": [{"filter": "datum.panel == 1"}], "mark": {"type": "line", "strokeWidth": 3, "interpolate": "monotone"}, "encoding": {"color": {"field": "peak", "type": "nominal", "scale": {"domain": ["13", "14"], "range": ["#0000CC", "#0F9A0F"]}, "legend": null}}},
        {"data": {"name": "notes"}, "transform": [{"filter": "datum.panel == 1 && datum.kind == 'sample'"}], "mark": {"type": "text", "align": "left", "baseline": "middle", "font": "Liberation Sans", "fontSize": 21}, "encoding": {"text": {"field": "text"}, "color": {"field": "peak", "type": "nominal", "legend": null}}},
        {"data": {"name": "notes"}, "transform": [{"filter": "datum.panel == 1 && datum.kind == 'peak'"}], "mark": {"type": "text", "align": "center", "baseline": "middle", "font": "DejaVu Sans", "fontSize": 33, "color": "#000000"}, "encoding": {"text": {"field": "text"}}},
        {"data": {"name": "notes"}, "transform": [{"filter": "datum.panel == 1 && datum.kind == 'key'"}], "mark": {"type": "text", "align": "left", "baseline": "middle", "font": "DejaVu Sans", "fontSize": 43.5, "color": "#000000"}, "encoding": {"text": {"field": "text"}}}
      ]
    },
    {
      "width": 881, "height": 413,
      "data": {"name": "box"},
      "encoding": {
        "x": {"datum": 0.685, "type": "quantitative", "scale": {"domain": [-0.34, 32.905], "nice": false, "zero": false}, "axis": null},
        "y": {"field": "line", "type": "quantitative", "scale": {"domain": [-3.616, 9.371], "reverse": true, "nice": false, "zero": false}, "axis": null}
      },
      "layer": [
        {"mark": {"type": "text", "align": "left", "baseline": "middle", "font": "DejaVu Sans", "fontSize": 26.5, "color": "#000000"}, "encoding": {"text": {"field": "key"}}},
        {"mark": {"type": "text", "align": "left", "baseline": "middle", "font": "DejaVu Sans", "fontSize": 26.5, "color": "#000000"}, "encoding": {"x": {"datum": 9.07}, "text": {"field": "value"}}},
        {"transform": [{"filter": "datum.line == 0"}], "mark": {"type": "point", "shape": "M 85.28 -2.9 L -1.82 -2.9 L -1.82 25.1 L 85.28 25.1", "size": 400, "filled": false, "color": "#222222", "strokeWidth": 2, "opacity": 1}}
      ]
    },
    {
      "width": 562, "height": 413,
      "data": {"name": "conditions"},
      "encoding": {
        "x": {"datum": 0, "type": "quantitative", "scale": {"domain": [-0.909, 24.636], "nice": false, "zero": false}, "axis": null},
        "y": {"field": "line", "type": "quantitative", "scale": {"domain": [-1.745, 6.353], "reverse": true, "nice": false, "zero": false}, "axis": null}
      },
      "layer": [
        {"transform": [{"filter": "datum.row == 2 && datum.kind == 'body'"}], "mark": {"type": "text", "align": "left", "baseline": "alphabetic", "font": "DejaVu Sans", "fontSize": 44}, "encoding": {"text": {"field": "text"}, "color": {"condition": {"test": "datum.changed", "value": "#FF0000"}, "value": "#000000"}}},
        {"transform": [{"filter": "datum.row == 2 && datum.kind == 'head'"}], "mark": {"type": "text", "align": "left", "baseline": "alphabetic", "font": "DejaVu Sans", "fontSize": 44, "dy": -9, "color": "#000000"}, "encoding": {"text": {"field": "text"}}},
        {"transform": [{"filter": "datum.row == 2 && datum.kind == 'head'"}, {"calculate": "length(datum.text)", "as": "nchar"}], "mark": {"type": "point", "shape": "M 0 0 L 2 0", "filled": false, "color": "#000000", "strokeWidth": 2.5, "opacity": 1, "yOffset": -3}, "encoding": {"size": {"field": "nchar", "type": "quantitative", "scale": {"type": "pow", "exponent": 2, "domain": [0, 30], "range": [0, 435600]}, "legend": null}}},
        {"data": {"values": [{"arrow": "down"}]}, "mark": {"type": "point", "shape": "M -0.485 -0.763 L 0.485 -0.763 L 0.485 0 L 1 0 L 0 0.763 L -1 0 L -0.485 0 Z", "size": 9409, "filled": true, "fill": "#03205E", "stroke": "#BCD0EA", "strokeWidth": 1.5, "opacity": 1}, "encoding": {"x": {"datum": 10.52}, "y": {"datum": 5.79}}}
      ]
    },
    {
      "width": 1417, "height": 413,
      "encoding": {
        "x": {"field": "t", "type": "quantitative", "scale": {"domain": [0, 20.1], "nice": false, "zero": false}, "axis": {"title": null, "values": [0,0.25,0.5,0.75,1,1.25,1.5,1.75,2,2.25,2.5,2.75,3,3.25,3.5,3.75,4,4.25,4.5,4.75,5,5.25,5.5,5.75,6,6.25,6.5,6.75,7,7.25,7.5,7.75,8,8.25,8.5,8.75,9,9.25,9.5,9.75,10,10.25,10.5,10.75,11,11.25,11.5,11.75,12,12.25,12.5,12.75,13,13.25,13.5,13.75,14,14.25,14.5,14.75,15,15.25,15.5,15.75,16,16.25,16.5,16.75,17,17.25,17.5,17.75,18,18.25,18.5,18.75,19,19.25,19.5,19.75,20], "labelExpr": "datum.value % 5 === 0 ? (datum.value === 20 ? 'min' : format(datum.value, 'd')) : ''", "labelFont": "Liberation Sans", "labelFontSize": 21, "labelColor": "#000000", "labelBaseline": "middle", "labelPadding": 17, "labelOverlap": false, "labelFlush": false, "domainColor": "#555555", "domainWidth": 3, "tickColor": "#333333", "tickWidth": 1.5, "tickSize": 5, "grid": false}},
        "y": {"field": "mAU", "type": "quantitative", "scale": {"domain": [-1.8, 20.4], "nice": false, "zero": false}, "axis": {"title": "mAU", "titleAngle": 0, "titleAlign": "right", "titleBaseline": "middle", "titleX": -25, "titleY": 3, "titleFont": "Liberation Sans", "titleFontSize": 22, "titleFontWeight": "normal", "titleColor": "#000000", "values": [-1.75,-1.5,-1.25,-1,-0.75,-0.5,-0.25,0,0.25,0.5,0.75,1,1.25,1.5,1.75,2,2.25,2.5,2.75,3,3.25,3.5,3.75,4,4.25,4.5,4.75,5,5.25,5.5,5.75,6,6.25,6.5,6.75,7,7.25,7.5,7.75,8,8.25,8.5,8.75,9,9.25,9.5,9.75,10,10.25,10.5,10.75,11,11.25,11.5,11.75,12,12.25,12.5,12.75,13,13.25,13.5,13.75,14,14.25,14.5,14.75,15,15.25,15.5,15.75,16,16.25,16.5,16.75,17,17.25,17.5,17.75,18,18.25,18.5,18.75,19,19.25,19.5,19.75,20,20.25], "labelExpr": "datum.value % 5 === 0 && datum.value >= 0 && datum.value <= 15 ? format(datum.value, 'd') : ''", "labelFont": "Liberation Sans", "labelFontSize": 21, "labelColor": "#000000", "labelPadding": 26, "labelOverlap": false, "labelFlush": false, "domainColor": "#333333", "domainWidth": 1.5, "tickColor": "#333333", "tickWidth": 1.2, "tickSize": 4, "grid": false}}
      },
      "layer": [
        {"data": {"name": "trace"}, "transform": [{"filter": "datum.panel == 2"}], "mark": {"type": "line", "strokeWidth": 3, "interpolate": "monotone"}, "encoding": {"color": {"field": "peak", "type": "nominal", "scale": {"domain": ["13", "14"], "range": ["#0000CC", "#0F9A0F"]}, "legend": null}}},
        {"data": {"name": "notes"}, "transform": [{"filter": "datum.panel == 2 && datum.kind == 'sample'"}], "mark": {"type": "text", "align": "left", "baseline": "middle", "font": "Liberation Sans", "fontSize": 21}, "encoding": {"text": {"field": "text"}, "color": {"field": "peak", "type": "nominal", "legend": null}}},
        {"data": {"name": "notes"}, "transform": [{"filter": "datum.panel == 2 && datum.kind == 'peak'"}], "mark": {"type": "text", "align": "center", "baseline": "middle", "font": "DejaVu Sans", "fontSize": 33, "color": "#000000"}, "encoding": {"text": {"field": "text"}}}
      ]
    },
    {
      "width": 881, "height": 413,
      "data": {"name": "para"},
      "mark": {"type": "text", "align": "left", "baseline": "middle", "font": "DejaVu Sans", "fontSize": 43, "color": "#000000"},
      "encoding": {
        "x": {"datum": 1.93, "type": "quantitative", "scale": {"domain": [0, 20.488], "nice": false, "zero": false}, "axis": null},
        "y": {"field": "line", "type": "quantitative", "scale": {"domain": [-0.872, 7.132], "reverse": true, "nice": false, "zero": false}, "axis": null},
        "text": {"field": "text"}
      }
    },
    {
      "width": 562, "height": 413,
      "data": {"name": "conditions"},
      "encoding": {
        "x": {"datum": 0, "type": "quantitative", "scale": {"domain": [-0.909, 24.636], "nice": false, "zero": false}, "axis": null},
        "y": {"field": "line", "type": "quantitative", "scale": {"domain": [-0.96, 7.138], "reverse": true, "nice": false, "zero": false}, "axis": null}
      },
      "layer": [
        {"transform": [{"filter": "datum.row == 3 && datum.kind == 'body'"}], "mark": {"type": "text", "align": "left", "baseline": "alphabetic", "font": "DejaVu Sans", "fontSize": 44}, "encoding": {"text": {"field": "text"}, "color": {"condition": {"test": "datum.changed", "value": "#FF0000"}, "value": "#000000"}}},
        {"transform": [{"filter": "datum.row == 3 && datum.kind == 'head'"}], "mark": {"type": "text", "align": "left", "baseline": "alphabetic", "font": "DejaVu Sans", "fontSize": 44, "dy": -14, "color": "#000000"}, "encoding": {"text": {"field": "text"}}},
        {"transform": [{"filter": "datum.row == 3 && datum.kind == 'head'"}, {"calculate": "length(datum.text)", "as": "nchar"}], "mark": {"type": "point", "shape": "M 0 0 L 2 0", "filled": false, "color": "#000000", "strokeWidth": 2.5, "opacity": 1, "yOffset": -8}, "encoding": {"size": {"field": "nchar", "type": "quantitative", "scale": {"type": "pow", "exponent": 2, "domain": [0, 30], "range": [0, 435600]}, "legend": null}}},
        {"data": {"values": [{"arrow": "down"}]}, "mark": {"type": "point", "shape": "M -0.485 -0.763 L 0.485 -0.763 L 0.485 0 L 1 0 L 0 0.763 L -1 0 L -0.485 0 Z", "size": 9409, "filled": true, "fill": "#03205E", "stroke": "#BCD0EA", "strokeWidth": 1.5, "opacity": 1}, "encoding": {"x": {"datum": 10.52}, "y": {"datum": 6.44}}}
      ]
    },
    {
      "width": 1417, "height": 413,
      "encoding": {
        "x": {"field": "t", "type": "quantitative", "scale": {"domain": [0, 20.1], "nice": false, "zero": false}, "axis": {"title": null, "values": [0,0.25,0.5,0.75,1,1.25,1.5,1.75,2,2.25,2.5,2.75,3,3.25,3.5,3.75,4,4.25,4.5,4.75,5,5.25,5.5,5.75,6,6.25,6.5,6.75,7,7.25,7.5,7.75,8,8.25,8.5,8.75,9,9.25,9.5,9.75,10,10.25,10.5,10.75,11,11.25,11.5,11.75,12,12.25,12.5,12.75,13,13.25,13.5,13.75,14,14.25,14.5,14.75,15,15.25,15.5,15.75,16,16.25,16.5,16.75,17,17.25,17.5,17.75,18,18.25,18.5,18.75,19,19.25,19.5,19.75,20], "labelExpr": "datum.value % 5 === 0 ? (datum.value === 20 ? 'min' : format(datum.value, 'd')) : ''", "labelFont": "Liberation Sans", "labelFontSize": 21, "labelColor": "#000000", "labelBaseline": "middle", "labelPadding": 17, "labelOverlap": false, "labelFlush": false, "domainColor": "#555555", "domainWidth": 3, "tickColor": "#333333", "tickWidth": 1.5, "tickSize": 5, "grid": false}},
        "y": {"field": "mAU", "type": "quantitative", "scale": {"domain": [-1.8, 20.4], "nice": false, "zero": false}, "axis": {"title": "mAU", "titleAngle": 0, "titleAlign": "right", "titleBaseline": "middle", "titleX": -25, "titleY": 3, "titleFont": "Liberation Sans", "titleFontSize": 22, "titleFontWeight": "normal", "titleColor": "#000000", "values": [-1.75,-1.5,-1.25,-1,-0.75,-0.5,-0.25,0,0.25,0.5,0.75,1,1.25,1.5,1.75,2,2.25,2.5,2.75,3,3.25,3.5,3.75,4,4.25,4.5,4.75,5,5.25,5.5,5.75,6,6.25,6.5,6.75,7,7.25,7.5,7.75,8,8.25,8.5,8.75,9,9.25,9.5,9.75,10,10.25,10.5,10.75,11,11.25,11.5,11.75,12,12.25,12.5,12.75,13,13.25,13.5,13.75,14,14.25,14.5,14.75,15,15.25,15.5,15.75,16,16.25,16.5,16.75,17,17.25,17.5,17.75,18,18.25,18.5,18.75,19,19.25,19.5,19.75,20,20.25], "labelExpr": "datum.value % 5 === 0 && datum.value >= 0 && datum.value <= 15 ? format(datum.value, 'd') : ''", "labelFont": "Liberation Sans", "labelFontSize": 21, "labelColor": "#000000", "labelPadding": 26, "labelOverlap": false, "labelFlush": false, "domainColor": "#333333", "domainWidth": 1.5, "tickColor": "#333333", "tickWidth": 1.2, "tickSize": 4, "grid": false}}
      },
      "layer": [
        {"data": {"name": "trace"}, "transform": [{"filter": "datum.panel == 3"}], "mark": {"type": "line", "strokeWidth": 3, "interpolate": "monotone"}, "encoding": {"color": {"field": "peak", "type": "nominal", "scale": {"domain": ["13", "14"], "range": ["#0000CC", "#0F9A0F"]}, "legend": null}}},
        {"data": {"name": "notes"}, "transform": [{"filter": "datum.panel == 3 && datum.kind == 'sample'"}], "mark": {"type": "text", "align": "left", "baseline": "middle", "font": "Liberation Sans", "fontSize": 21}, "encoding": {"text": {"field": "text"}, "color": {"field": "peak", "type": "nominal", "legend": null}}},
        {"data": {"name": "notes"}, "transform": [{"filter": "datum.panel == 3 && datum.kind == 'peak'"}], "mark": {"type": "text", "align": "center", "baseline": "middle", "font": "DejaVu Sans", "fontSize": 33, "color": "#000000"}, "encoding": {"text": {"field": "text"}}}
      ]
    },
    {"width": 881, "height": 413, "data": {"values": [{"blank": " "}]}, "mark": {"type": "text", "opacity": 0}, "encoding": {"text": {"field": "blank", "type": "nominal"}}},
    {
      "width": 562, "height": 413,
      "data": {"name": "conditions"},
      "encoding": {
        "x": {"datum": 0, "type": "quantitative", "scale": {"domain": [-0.909, 24.636], "nice": false, "zero": false}, "axis": null},
        "y": {"field": "line", "type": "quantitative", "scale": {"domain": [-1.098, 7.0], "reverse": true, "nice": false, "zero": false}, "axis": null}
      },
      "layer": [
        {"transform": [{"filter": "datum.row == 4 && datum.kind == 'body'"}], "mark": {"type": "text", "align": "left", "baseline": "alphabetic", "font": "DejaVu Sans", "fontSize": 44}, "encoding": {"text": {"field": "text"}, "color": {"condition": {"test": "datum.changed", "value": "#FF0000"}, "value": "#000000"}}},
        {"transform": [{"filter": "datum.row == 4 && datum.kind == 'head'"}], "mark": {"type": "text", "align": "left", "baseline": "alphabetic", "font": "DejaVu Sans", "fontSize": 44, "dy": -6, "color": "#000000"}, "encoding": {"text": {"field": "text"}}},
        {"transform": [{"filter": "datum.row == 4 && datum.kind == 'head'"}, {"calculate": "length(datum.text)", "as": "nchar"}], "mark": {"type": "point", "shape": "M 0 0 L 2 0", "filled": false, "color": "#000000", "strokeWidth": 2.5, "opacity": 1, "yOffset": 0}, "encoding": {"size": {"field": "nchar", "type": "quantitative", "scale": {"type": "pow", "exponent": 2, "domain": [0, 30], "range": [0, 435600]}, "legend": null}}},
        {"data": {"values": [{"arrow": "down"}]}, "mark": {"type": "point", "shape": "M -0.485 -0.763 L 0.485 -0.763 L 0.485 0 L 1 0 L 0 0.763 L -1 0 L -0.485 0 Z", "size": 9409, "filled": true, "fill": "#03205E", "stroke": "#BCD0EA", "strokeWidth": 1.5, "opacity": 1}, "encoding": {"x": {"datum": 10.52}, "y": {"datum": 6.755}}}
      ]
    },
    {
      "width": 1417, "height": 413,
      "encoding": {
        "x": {"field": "t", "type": "quantitative", "scale": {"domain": [0, 20.1], "nice": false, "zero": false}, "axis": {"title": null, "values": [0,0.25,0.5,0.75,1,1.25,1.5,1.75,2,2.25,2.5,2.75,3,3.25,3.5,3.75,4,4.25,4.5,4.75,5,5.25,5.5,5.75,6,6.25,6.5,6.75,7,7.25,7.5,7.75,8,8.25,8.5,8.75,9,9.25,9.5,9.75,10,10.25,10.5,10.75,11,11.25,11.5,11.75,12,12.25,12.5,12.75,13,13.25,13.5,13.75,14,14.25,14.5,14.75,15,15.25,15.5,15.75,16,16.25,16.5,16.75,17,17.25,17.5,17.75,18,18.25,18.5,18.75,19,19.25,19.5,19.75,20], "labelExpr": "datum.value % 5 === 0 ? (datum.value === 20 ? 'min' : format(datum.value, 'd')) : ''", "labelFont": "Liberation Sans", "labelFontSize": 21, "labelColor": "#000000", "labelBaseline": "middle", "labelPadding": 17, "labelOverlap": false, "labelFlush": false, "domainColor": "#555555", "domainWidth": 3, "tickColor": "#333333", "tickWidth": 1.5, "tickSize": 5, "grid": false}},
        "y": {"field": "mAU", "type": "quantitative", "scale": {"domain": [-1.8, 20.4], "nice": false, "zero": false}, "axis": {"title": "mAU", "titleAngle": 0, "titleAlign": "right", "titleBaseline": "middle", "titleX": -25, "titleY": 3, "titleFont": "Liberation Sans", "titleFontSize": 22, "titleFontWeight": "normal", "titleColor": "#000000", "values": [-1.75,-1.5,-1.25,-1,-0.75,-0.5,-0.25,0,0.25,0.5,0.75,1,1.25,1.5,1.75,2,2.25,2.5,2.75,3,3.25,3.5,3.75,4,4.25,4.5,4.75,5,5.25,5.5,5.75,6,6.25,6.5,6.75,7,7.25,7.5,7.75,8,8.25,8.5,8.75,9,9.25,9.5,9.75,10,10.25,10.5,10.75,11,11.25,11.5,11.75,12,12.25,12.5,12.75,13,13.25,13.5,13.75,14,14.25,14.5,14.75,15,15.25,15.5,15.75,16,16.25,16.5,16.75,17,17.25,17.5,17.75,18,18.25,18.5,18.75,19,19.25,19.5,19.75,20,20.25], "labelExpr": "datum.value % 5 === 0 && datum.value >= 0 && datum.value <= 15 ? format(datum.value, 'd') : ''", "labelFont": "Liberation Sans", "labelFontSize": 21, "labelColor": "#000000", "labelPadding": 26, "labelOverlap": false, "labelFlush": false, "domainColor": "#333333", "domainWidth": 1.5, "tickColor": "#333333", "tickWidth": 1.2, "tickSize": 4, "grid": false}}
      },
      "layer": [
        {"data": {"name": "trace"}, "transform": [{"filter": "datum.panel == 4"}], "mark": {"type": "line", "strokeWidth": 3, "interpolate": "monotone"}, "encoding": {"color": {"field": "peak", "type": "nominal", "scale": {"domain": ["13", "14"], "range": ["#0000CC", "#0F9A0F"]}, "legend": null}}},
        {"data": {"name": "notes"}, "transform": [{"filter": "datum.panel == 4 && datum.kind == 'sample'"}], "mark": {"type": "text", "align": "left", "baseline": "middle", "font": "Liberation Sans", "fontSize": 21}, "encoding": {"text": {"field": "text"}, "color": {"field": "peak", "type": "nominal", "legend": null}}},
        {"data": {"name": "notes"}, "transform": [{"filter": "datum.panel == 4 && datum.kind == 'peak'"}], "mark": {"type": "text", "align": "center", "baseline": "middle", "font": "DejaVu Sans", "fontSize": 33, "color": "#000000"}, "encoding": {"text": {"field": "text"}}}
      ]
    },
    {"width": 881, "height": 413, "data": {"values": [{"blank": " "}]}, "mark": {"type": "text", "opacity": 0}, "encoding": {"text": {"field": "blank", "type": "nominal"}}},
    {
      "width": 562, "height": 413,
      "data": {"name": "conditions"},
      "encoding": {
        "x": {"datum": 0, "type": "quantitative", "scale": {"domain": [-0.909, 24.636], "nice": false, "zero": false}, "axis": null},
        "y": {"field": "line", "type": "quantitative", "scale": {"domain": [-1.51, 6.588], "reverse": true, "nice": false, "zero": false}, "axis": null}
      },
      "layer": [
        {"transform": [{"filter": "datum.row == 5 && datum.kind == 'body'"}], "mark": {"type": "text", "align": "left", "baseline": "alphabetic", "font": "DejaVu Sans", "fontSize": 44}, "encoding": {"text": {"field": "text"}, "color": {"condition": {"test": "datum.changed", "value": "#FF0000"}, "value": "#000000"}}},
        {"transform": [{"filter": "datum.row == 5 && datum.kind == 'head'"}], "mark": {"type": "text", "align": "left", "baseline": "alphabetic", "font": "DejaVu Sans", "fontSize": 44, "dy": -9, "color": "#000000"}, "encoding": {"text": {"field": "text"}}},
        {"transform": [{"filter": "datum.row == 5 && datum.kind == 'head'"}, {"calculate": "length(datum.text)", "as": "nchar"}], "mark": {"type": "point", "shape": "M 0 0 L 2 0", "filled": false, "color": "#000000", "strokeWidth": 2.5, "opacity": 1, "yOffset": -3}, "encoding": {"size": {"field": "nchar", "type": "quantitative", "scale": {"type": "pow", "exponent": 2, "domain": [0, 30], "range": [0, 435600]}, "legend": null}}}
      ]
    },
    {
      "width": 1417, "height": 413,
      "encoding": {
        "x": {"field": "t", "type": "quantitative", "scale": {"domain": [0, 20.1], "nice": false, "zero": false}, "axis": {"title": null, "values": [0,0.25,0.5,0.75,1,1.25,1.5,1.75,2,2.25,2.5,2.75,3,3.25,3.5,3.75,4,4.25,4.5,4.75,5,5.25,5.5,5.75,6,6.25,6.5,6.75,7,7.25,7.5,7.75,8,8.25,8.5,8.75,9,9.25,9.5,9.75,10,10.25,10.5,10.75,11,11.25,11.5,11.75,12,12.25,12.5,12.75,13,13.25,13.5,13.75,14,14.25,14.5,14.75,15,15.25,15.5,15.75,16,16.25,16.5,16.75,17,17.25,17.5,17.75,18,18.25,18.5,18.75,19,19.25,19.5,19.75,20], "labelExpr": "datum.value % 5 === 0 ? (datum.value === 20 ? 'min' : format(datum.value, 'd')) : ''", "labelFont": "Liberation Sans", "labelFontSize": 21, "labelColor": "#000000", "labelBaseline": "middle", "labelPadding": 17, "labelOverlap": false, "labelFlush": false, "domainColor": "#555555", "domainWidth": 3, "tickColor": "#333333", "tickWidth": 1.5, "tickSize": 5, "grid": false}},
        "y": {"field": "mAU", "type": "quantitative", "scale": {"domain": [-1.8, 20.4], "nice": false, "zero": false}, "axis": {"title": "mAU", "titleAngle": 0, "titleAlign": "right", "titleBaseline": "middle", "titleX": -25, "titleY": 3, "titleFont": "Liberation Sans", "titleFontSize": 22, "titleFontWeight": "normal", "titleColor": "#000000", "values": [-1.75,-1.5,-1.25,-1,-0.75,-0.5,-0.25,0,0.25,0.5,0.75,1,1.25,1.5,1.75,2,2.25,2.5,2.75,3,3.25,3.5,3.75,4,4.25,4.5,4.75,5,5.25,5.5,5.75,6,6.25,6.5,6.75,7,7.25,7.5,7.75,8,8.25,8.5,8.75,9,9.25,9.5,9.75,10,10.25,10.5,10.75,11,11.25,11.5,11.75,12,12.25,12.5,12.75,13,13.25,13.5,13.75,14,14.25,14.5,14.75,15,15.25,15.5,15.75,16,16.25,16.5,16.75,17,17.25,17.5,17.75,18,18.25,18.5,18.75,19,19.25,19.5,19.75,20,20.25], "labelExpr": "datum.value % 5 === 0 && datum.value >= 0 && datum.value <= 15 ? format(datum.value, 'd') : ''", "labelFont": "Liberation Sans", "labelFontSize": 21, "labelColor": "#000000", "labelPadding": 26, "labelOverlap": false, "labelFlush": false, "domainColor": "#333333", "domainWidth": 1.5, "tickColor": "#333333", "tickWidth": 1.2, "tickSize": 4, "grid": false}}
      },
      "layer": [
        {"data": {"name": "trace"}, "transform": [{"filter": "datum.panel == 5"}], "mark": {"type": "line", "strokeWidth": 3, "interpolate": "monotone"}, "encoding": {"color": {"field": "peak", "type": "nominal", "scale": {"domain": ["13", "14"], "range": ["#0000CC", "#0F9A0F"]}, "legend": null}}},
        {"data": {"name": "notes"}, "transform": [{"filter": "datum.panel == 5 && datum.kind == 'sample'"}], "mark": {"type": "text", "align": "left", "baseline": "middle", "font": "Liberation Sans", "fontSize": 21}, "encoding": {"text": {"field": "text"}, "color": {"field": "peak", "type": "nominal", "legend": null}}},
        {"data": {"name": "notes"}, "transform": [{"filter": "datum.panel == 5 && datum.kind == 'peak'"}], "mark": {"type": "text", "align": "center", "baseline": "middle", "font": "DejaVu Sans", "fontSize": 33, "color": "#000000"}, "encoding": {"text": {"field": "text"}}}
      ]
    },
    {"width": 881, "height": 413, "data": {"values": [{"blank": " "}]}, "mark": {"type": "text", "opacity": 0}, "encoding": {"text": {"field": "blank", "type": "nominal"}}}
  ]
}
